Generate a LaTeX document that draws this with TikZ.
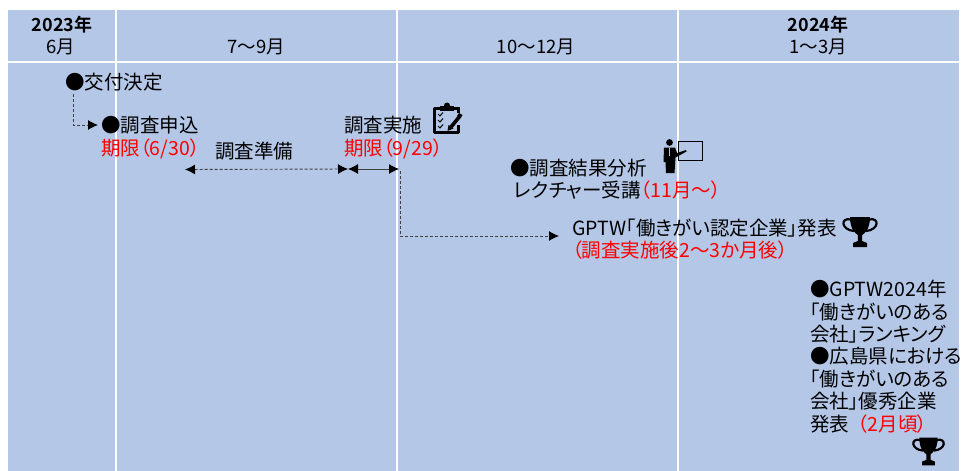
\documentclass[tikz,border=0pt]{standalone}
\usepackage{fontspec}
\usetikzlibrary{arrows.meta}
\newfontfamily\jpfont[RawFeature=+palt,BoldFont={Noto Sans CJK JP Bold}]{Noto Sans CJK JP}
\definecolor{panel}{HTML}{B4C7E7}
\definecolor{deadline}{HTML}{FF0000}
\tikzset{
  x=1pt,y=-1pt,
  gridline/.style={white,line width=1.6pt},
  label/.style={inner sep=0pt,anchor=base west,font=\jpfont\fontsize{19.5}{22.4}\selectfont,text=black},
  head/.style={inner sep=0pt,anchor=base,font=\jpfont\fontsize{18.5}{20}\selectfont,text=black},
  headyear/.style={head,font=\jpfont\bfseries\fontsize{18}{20}\selectfont},
  redlabel/.style={label,text=deadline},
  flow/.style={draw=black!75,line width=.9pt,dash pattern=on 3pt off 2pt,-{Latex[length=10pt,width=10pt,black]}},
  span/.style={flow,{Latex[length=10pt,width=10pt,black]}-{Latex[length=10pt,width=10pt,black]}},
  spansolid/.style={span,solid},
  trophy/.pic={
    \fill[black] (-10,-15) -- (10,-15) .. controls (10,-3) and (5,1) .. (2.2,3) -- (2.2,9) -- (7,11) -- (7,15) -- (-7,15) -- (-7,11) -- (-2.2,9) -- (-2.2,3) .. controls (-5,1) and (-10,-3) .. (-10,-15) -- cycle;
    \draw[black,line width=2.2pt] (-9,-12.5) .. controls (-20,-15) and (-19,-2) .. (-6,-1);
    \draw[black,line width=2.2pt] (9,-12.5) .. controls (20,-15) and (19,-2) .. (6,-1);
  },
}
\begin{document}
\begin{tikzpicture}
\useasboundingbox (0,0) rectangle (962,471);
\fill[panel] (8,10) rectangle (959,471);
\draw[gridline] (116,10) -- (116,471);
\draw[gridline] (397,10) -- (397,471);
\draw[gridline] (678,10) -- (678,471);
\draw[gridline] (8,62) -- (959,62);

\node[headyear] (y23) at (62,31) {2023年};
\node[head] (m6) at (61,53) {6月};
\node[head] (m79) at (256,53) {7～9月};
\node[head] (m1012) at (536,53) {10～12月};
\node[headyear] (y24) at (818,31) {2024年};
\node[head] (m13) at (818,53) {1～3月};

\node[label] (grant) at (65,89) {●交付決定};
\node[label] (apply) at (101,132) {●調査申込};
\node[redlabel] (applydue) at (101,155) {期限（6/30）};
\node[label] (prep) at (215,158) {調査準備};
\node[label] (survey) at (344,132) {調査実施};
\node[redlabel] (surveydue) at (344,155) {期限（9/29）};
\node[label] (analysis) at (510,175) {●調査結果分析};
\node[label] (lecture) at (514,197) {レクチャー受講\textcolor{deadline}{（11月～）}};
\node[label] (cert) at (572,235) {GPTW「働きがい認定企業」発表};
\node[redlabel] (certwhen) at (572,257) {（調査実施後2～3か月後）};
\node[label,anchor=north west,align=left] (rank) at (810,280) {●GPTW2024年\\「働きがいのある\\会社」ランキング\\●広島県における\\「働きがいのある\\会社」優秀企業\\発表\ \ \textcolor{deadline}{（2月頃）}};

\coordinate (a1) at (73,94);
\coordinate (a2) at (73,125);
\coordinate (a3) at (98,125);
\coordinate (b1) at (185,169.5);
\coordinate (b2) at (348,169);
\coordinate (c2) at (399,169);
\coordinate (d1) at (400,171);
\coordinate (d2) at (400,236);
\coordinate (d3) at (559,236);
\draw[flow] (a1) -- (a2) -- (a3);
\draw[span] (b1) -- (b2);
\draw[spansolid] (b2) -- (c2);
\draw[flow] (d1) -- (d2) -- (d3);

% clipboard icon
\draw[black,line width=3pt,line join=round] (440,108) -- (434,108) -- (434,132) -- (458,132) -- (458,125);
\draw[black,line width=3pt] (453,108) -- (458,108) -- (458,113);
\fill[black] (440,106) rectangle (454,110.5);
\fill[black] (447,105.5) circle (3);
\draw[black,line width=1pt] (438,114) -- (440,116) -- (443,112.5) (438,120) -- (440,122) -- (443,118.5) (438,126) -- (440,128) -- (443,124.5);
\draw[black,line width=3.6pt] (451,127) -- (460,116);
\fill[black] (447.5,131) -- (448.5,125) -- (453.5,128.5) -- cycle;
\fill[black] (460.5,118) -- (462.5,115) -- (459,113) -- (457,116) -- cycle;

% lecturer icon
\fill[black] (669.5,142.5) circle (3.4);
\fill[black] (664,147.5) -- (675,147.5) -- (677,153) -- (686,150) -- (686.5,151.5) -- (675.5,157.5) -- (674.5,173) -- (666,173) -- (665.5,162) -- (663.5,162) -- cycle;
\draw[panel,line width=.7pt] (669.5,148) -- (669.5,156);
\draw[black,line width=1.8pt] (678.5,141.5) rectangle (702.5,160.5);

\pic at (860,232) {trophy};
\pic[scale=.92] at (928.5,451.5) {trophy};
\end{tikzpicture}
\end{document}
